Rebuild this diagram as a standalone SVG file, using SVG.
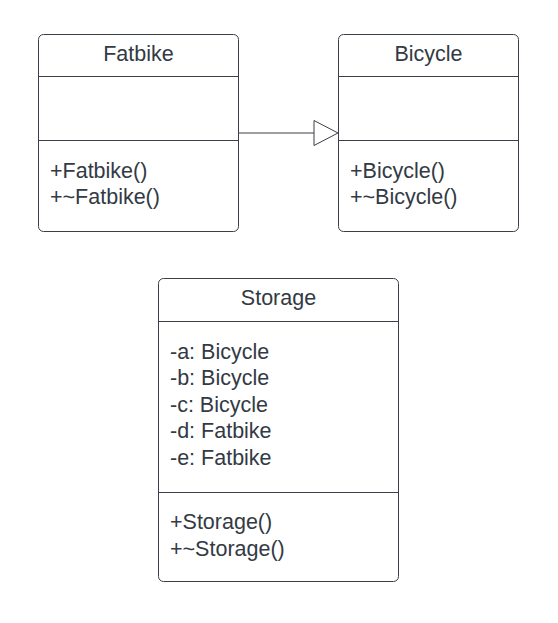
<svg xmlns="http://www.w3.org/2000/svg" width="558" height="623" viewBox="0 0 558 623">
<style>
.box{fill:#fff;stroke:#3a3f47;stroke-width:1}
.sep{stroke:#3a3f47;stroke-width:1}
text{font-family:"Liberation Sans",Arial,sans-serif;font-size:21.5px;fill:#333a44}
.t{text-anchor:middle}
.edge{fill:none;stroke:#3a3f47;stroke-width:1}
.head{fill:#fff;stroke:#3a3f47;stroke-width:1}
</style>
<rect width="558" height="623" fill="#fff"/>
<g id="connectors">
<path class="edge" d="M238 133 H314"/>
<path class="head" d="M314 120.5 L338 133 L314 145.5 Z"/>
</g>
<g id="Fatbike">
<rect class="box" x="38.5" y="34.5" width="200" height="197" rx="5"/>
<line class="sep" x1="38.5" y1="76.5" x2="238.5" y2="76.5"/>
<line class="sep" x1="38.5" y1="140.5" x2="238.5" y2="140.5"/>
<text class="t" x="138.5" y="60.5">Fatbike</text>
<text x="50" y="178">+Fatbike()</text>
<text x="50" y="204">+~Fatbike()</text>
</g>
<g id="Bicycle">
<rect class="box" x="338.5" y="34.5" width="180" height="197" rx="5"/>
<line class="sep" x1="338.5" y1="76.5" x2="518.5" y2="76.5"/>
<line class="sep" x1="338.5" y1="140.5" x2="518.5" y2="140.5"/>
<text class="t" x="428.5" y="60.5">Bicycle</text>
<text x="350" y="178">+Bicycle()</text>
<text x="350" y="204">+~Bicycle()</text>
</g>
<g id="Storage">
<rect class="box" x="158.5" y="278.5" width="240" height="303" rx="5"/>
<line class="sep" x1="158.5" y1="321.5" x2="398.5" y2="321.5"/>
<line class="sep" x1="158.5" y1="492.5" x2="398.5" y2="492.5"/>
<text class="t" x="278.5" y="305">Storage</text>
<text x="170" y="359">-a: Bicycle</text>
<text x="170" y="385">-b: Bicycle</text>
<text x="170" y="412">-c: Bicycle</text>
<text x="170" y="438">-d: Fatbike</text>
<text x="170" y="465">-e: Fatbike</text>
<text x="170" y="529">+Storage()</text>
<text x="170" y="556">+~Storage()</text>
</g>
</svg>
